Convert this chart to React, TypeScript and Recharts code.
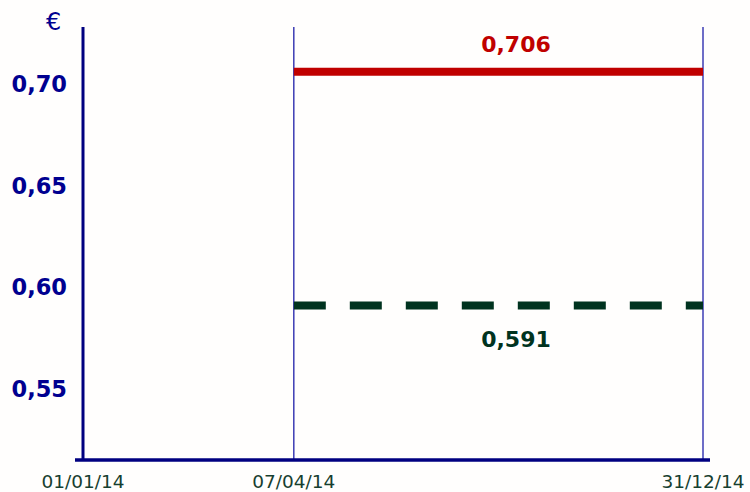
import { LineChart, Line, XAxis, YAxis, ReferenceLine } from 'recharts'

// Timeline (day of year) and tick labels
const xTickDays = [0, 96, 364]
const xTickLabels = ['01/01/14', '07/04/14', '31/12/14']

// Price levels (€)
const periodDays = [96, 364]
const upperValues = [0.706, 0.706]
const lowerValues = [0.591, 0.591]
const yTicks = [0.55, 0.6, 0.65, 0.7]

const data = periodDays.map((day, i) => ({ day, upper: upperValues[i], lower: lowerValues[i] }))

// piecewise linear scale so the schematic date spacing matches the slide
function makeTimeScale(stops: number[], fracs: number[]): any {
  let dom = [stops[0], stops[stops.length - 1]]
  let rng = [0, 1]
  const scale: any = (v: number) => {
    let i = 0
    while (i < stops.length - 2 && v > stops[i + 1]) i++
    const t = (v - stops[i]) / (stops[i + 1] - stops[i])
    const f = fracs[i] + t * (fracs[i + 1] - fracs[i])
    return rng[0] + f * (rng[1] - rng[0])
  }
  scale.domain = (d?: number[]) => {
    if (d === undefined) return dom
    dom = d
    return scale
  }
  scale.range = (r?: number[]) => {
    if (r === undefined) return rng
    rng = r
    return scale
  }
  scale.copy = () => makeTimeScale(stops, fracs).domain(dom).range(rng)
  scale.ticks = () => stops
  scale.invert = (px: number) => {
    const f = (px - rng[0]) / (rng[1] - rng[0])
    let i = 0
    while (i < fracs.length - 2 && f > fracs[i + 1]) i++
    const t = (f - fracs[i]) / (fracs[i + 1] - fracs[i])
    return stops[i] + t * (stops[i + 1] - stops[i])
  }
  return scale
}

const timeScale = makeTimeScale(xTickDays, [0, 0.34, 1])

const fmt = (v: number, d: number) => v.toFixed(d).replace('.', ',')

const endLabel = (color: string, dy: number) => (props: any) => {
  if (props.index !== 1) return null
  return (
    <text
      x={props.x - 187}
      y={props.y + dy}
      textAnchor="middle"
      dominantBaseline="central"
      fill={color}
      fontSize={22}
      fontWeight="bold"
      fontFamily="DejaVu Sans"
    >
      {fmt(props.value, 3)}
    </text>
  )
}

const App = () => {
  return (
    <div style={{ position: 'absolute', left: 0, top: 0, width: 750, height: 492, background: '#fffefd' }}>
      <div
        style={{
          position: 'absolute',
          left: 46,
          top: 8,
          color: '#000090',
          fontSize: 24,
          fontFamily: 'DejaVu Sans',
          lineHeight: '28px',
        }}
      >
        €
      </div>
      <LineChart width={750} height={492} data={data} margin={{ top: 27, right: 40, bottom: 0, left: 0 }}>
        <XAxis
          dataKey="day"
          type="number"
          scale={timeScale}
          domain={[0, 364]}
          ticks={xTickDays}
          padding={{ left: 8, right: 7 }}
          height={32}
          tickLine={false}
          tickSize={0}
          tickMargin={15}
          axisLine={{ stroke: '#000080', strokeWidth: 3.5 }}
          tickFormatter={(v: number) => xTickLabels[xTickDays.indexOf(v)]}
          tick={{ fill: '#173f30', fontSize: 18.5, fontFamily: 'DejaVu Sans' }}
        />
        <YAxis
          type="number"
          domain={[0.515, 0.728]}
          ticks={yTicks}
          width={75}
          axisLine={false}
          tickLine={false}
          tickSize={0}
          tickMargin={8}
          tickFormatter={(v: number) => fmt(v, 2)}
          tick={{ fill: '#000090', fontSize: 22.5, fontWeight: 'bold', fontFamily: 'DejaVu Sans' }}
        />
        <ReferenceLine x={0} stroke="#000080" strokeWidth={3} />
        <ReferenceLine x={96} stroke="#3c3cb4" strokeWidth={1.5} />
        <ReferenceLine x={364} stroke="#3c3cb4" strokeWidth={1.5} />
        <Line
          dataKey="upper"
          stroke="#c00000"
          strokeWidth={8}
          strokeLinecap="butt"
          dot={false}
          isAnimationActive={false}
          label={endLabel('#c00000', -27)}
        />
        <Line
          dataKey="lower"
          stroke="#00331f"
          strokeWidth={8}
          strokeLinecap="butt"
          strokeDasharray="32 24"
          dot={false}
          isAnimationActive={false}
          label={endLabel('#00331f', 34)}
        />
      </LineChart>
    </div>
  )
}

export default App
